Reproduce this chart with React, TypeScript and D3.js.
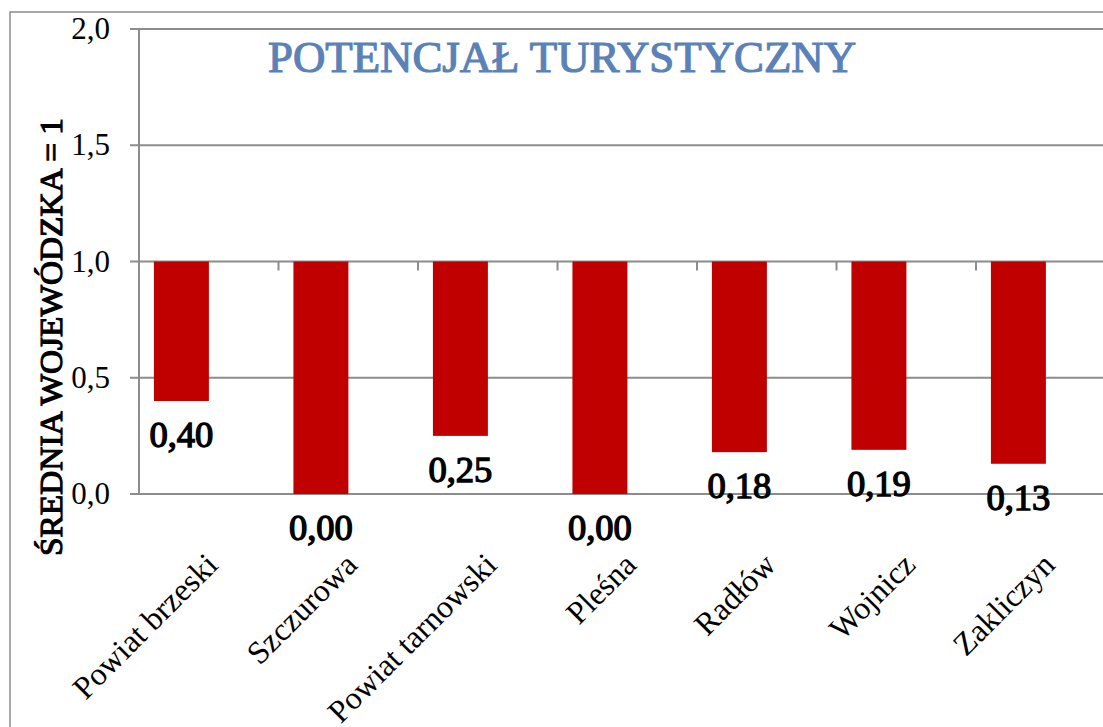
import React from "react";
import * as d3 from "d3";

// Chart data
const categories = [
  "Powiat brzeski",
  "Szczurowa",
  "Powiat tarnowski",
  "Pleśna",
  "Radłów",
  "Wojnicz",
  "Zakliczyn",
];
const values = [0.4, 0.0, 0.25, 0.0, 0.18, 0.19, 0.13];
const yTicks = [0, 0.5, 1, 1.5, 2];
const baseline = 1; // bars hang from the voivodeship average
const chartTitle = "POTENCJAŁ TURYSTYCZNY";
const yTitle = "ŚREDNIA WOJEWÓDZKA = 1";

const width = 1103;
const height = 727;
const plotLeft = 139;
const plotRight = 1115.5;
const plotTop = 29;
const plotBottom = 494;

const gridColor = "#8c8c8c";
const barColor = "#c00000";
const titleColor = "#5a82b7";
const font = "Liberation Serif, Times New Roman, serif";

// bold serif face is not available, so thicken the regular one with a stroke
const boldStyle = (color: string, sw: number) => ({
  fill: color,
  stroke: color,
  strokeWidth: sw,
  paintOrder: "stroke" as const,
  strokeLinejoin: "miter" as const,
});

const comma = (f: (n: number) => string) => (n: number) => f(n).replace(".", ",");
const fmtTick = comma(d3.format(".1f"));
const fmtValue = comma(d3.format(".2f"));

const App = () => {
  // Scales
  const x = d3.scaleBand<string>().domain(categories).range([plotLeft, plotRight]).padding(0);
  const y = d3.scaleLinear().domain([0, 2]).range([plotBottom, plotTop]);
  const bw = x.bandwidth();

  return (
    <div style={{ position: "fixed", left: 0, top: 0 }}>
      <svg width={width} height={height} style={{ display: "block", background: "#fff", fontFamily: font }}>
        {/* outer chart border */}
        <rect x={10} y={12} width={width} height={height} fill="none" stroke={gridColor} strokeWidth={1.5} />

        {/* gridlines + y ticks */}
        {yTicks.map((t) => (
          <g key={t}>
            <line x1={plotLeft - 9} x2={plotRight} y1={y(t)} y2={y(t)} stroke={gridColor} strokeWidth={2} />
            <text x={110} y={y(t) + 10} textAnchor="end" fontSize={31} fill="#000">
              {fmtTick(t)}
            </text>
          </g>
        ))}

        {/* bars */}
        {categories.map((c, i) => {
          const v = values[i];
          const bx = x(c)! + bw * 0.107;
          const w = bw * 0.394;
          return (
            <g key={c}>
              <rect x={bx} y={y(baseline)} width={w} height={y(v) - y(baseline)} fill={barColor} />
              <text
                x={bx + w / 2}
                y={y(v) + 46}
                textAnchor="middle"
                fontSize={35}
                textLength={64}
                lengthAdjust="spacingAndGlyphs"
                style={boldStyle("#000", 1.3)}
              >
                {fmtValue(v)}
              </text>
            </g>
          );
        })}

        {/* y axis line */}
        <line x1={plotLeft} x2={plotLeft} y1={plotTop} y2={plotBottom + 1} stroke={gridColor} strokeWidth={2} />

        {/* category axis at 1.0 with tick marks */}
        {categories.map((c) => (
          <line
            key={c}
            x1={x(c)! + bw}
            x2={x(c)! + bw}
            y1={y(baseline)}
            y2={y(baseline) + 9}
            stroke={gridColor}
            strokeWidth={2}
          />
        ))}

        {/* category labels */}
        {categories.map((c) => (
          <text
            key={c}
            transform={`translate(${x(c)! + bw / 2 + 3},${559}) rotate(-45)`}
            textAnchor="end"
            dominantBaseline="central"
            fontSize={32}
            fill="#000"
          >
            {c}
          </text>
        ))}

        {/* y axis title */}
        <text
          transform={`translate(62,${337}) rotate(-90)`}
          textAnchor="middle"
          fontSize={31}
          textLength={438}
          lengthAdjust="spacingAndGlyphs"
          style={boldStyle("#000", 1.1)}
        >
          {yTitle}
        </text>

        {/* chart title */}
        <text
          x={562}
          y={72}
          textAnchor="middle"
          fontSize={44}
          textLength={588}
          lengthAdjust="spacingAndGlyphs"
          style={boldStyle(titleColor, 1.2)}
        >
          {chartTitle}
        </text>
      </svg>
    </div>
  );
};

export default App;
